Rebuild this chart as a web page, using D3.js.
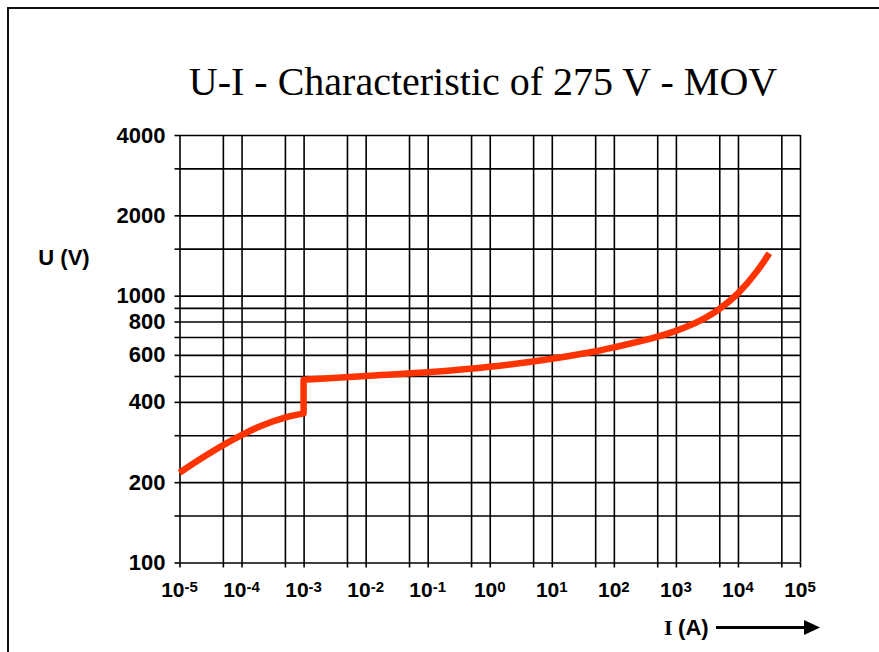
<!DOCTYPE html>
<html>
<head>
<meta charset="utf-8">
<script src="https://cdn.jsdelivr.net/npm/d3@7"></script>
<style>
  body { margin: 0; background: #fff; }
</style>
</head>
<body>
<div class="mov"></div>
<script>
// values
const currentLow = [1e-5, 3e-5, 1e-4, 2e-4, 5e-4, 1e-3]
const voltageLow = [217, 256, 300, 324, 349, 362]
const currentHigh = [1e-3, 1e-2, 1e-1, 1, 10, 40, 100, 490, 1000, 2450, 4800, 1e4, 2e4, 3.2e4]
const voltageHigh = [484, 500, 516, 541, 580, 612, 640, 700, 738, 806, 885, 1020, 1230, 1441]

const xGrid = [1e-5, 5e-5, 1e-4, 5e-4, 1e-3, 5e-3, 1e-2, 5e-2, 1e-1, 5e-1, 1, 5, 10, 50, 100, 500, 1e3, 5e3, 1e4, 5e4, 1e5]
const xLabels = [-5, -4, -3, -2, -1, 0, 1, 2, 3, 4, 5]
const yGrid = [100, 150, 200, 300, 400, 500, 600, 700, 800, 900, 1000, 1500, 2000, 3000, 4000]
const yLabels = [100, 200, 400, 600, 800, 1000, 2000, 4000]

function movChart() {
  const width = 879
  const height = 652
  const left = 179.5, right = 800, top = 135, bottom = 562.5

  const svg = d3.select(".mov").append("svg")
    .attr("width", width)
    .attr("height", height)

  // frame round the whole picture
  svg.append("rect")
    .attr("x", 8)
    .attr("y", 8)
    .attr("width", width + 20)
    .attr("height", height + 20)
    .attr("fill", "none")
    .attr("stroke", "#111")
    .attr("stroke-width", 2)

  const x = d3.scaleLog().domain([1e-5, 1e5]).range([left, right])
  const y = d3.scaleLog().domain([100, 4000]).range([bottom, top])

  svg.append("text")
    .attr("x", 483)
    .attr("y", 95)
    .attr("text-anchor", "middle")
    .style("font-family", "'Liberation Serif', 'Times New Roman', serif")
    .style("font-size", "40px")
    .attr("fill", "#000")
    .text("U-I - Characteristic of 275 V - MOV")

  // grid
  svg.append("g")
    .attr("transform", "translate(" + left + ",0)")
    .call(d3.axisLeft(y).tickValues(yGrid).tickSize(-(right - left)).tickFormat(""))
    .call(g => g.select(".domain").remove())
    .selectAll("line")
    .attr("stroke", "#000")
    .attr("stroke-width", 1.6)

  svg.append("g")
    .attr("transform", "translate(0," + bottom + ")")
    .call(d3.axisBottom(x).tickValues(xGrid).tickSize(-(bottom - top)).tickFormat(""))
    .call(g => g.select(".domain").remove())
    .selectAll("line")
    .attr("stroke", "#000")
    .attr("stroke-width", 1.6)

  // y axis ticks + labels
  const yAxis = svg.append("g")
    .attr("transform", "translate(" + left + ",0)")
    .call(d3.axisLeft(y).tickValues(yGrid).tickSize(5).tickPadding(9)
      .tickFormat(d => yLabels.includes(d) ? d : ""))
  yAxis.select(".domain").remove()
  yAxis.selectAll("line").attr("stroke", "#000").attr("stroke-width", 1.6)
  yAxis.selectAll("text")
    .style("font-family", "'Liberation Sans', Arial, sans-serif")
    .style("font-size", "22px")
    .style("font-weight", "bold")
    .attr("fill", "#000")

  // x axis ticks + labels
  const xAxis = svg.append("g")
    .attr("transform", "translate(0," + bottom + ")")
    .call(d3.axisBottom(x).tickValues(xGrid).tickSize(5).tickFormat(""))
  xAxis.select(".domain").remove()
  xAxis.selectAll("line").attr("stroke", "#000").attr("stroke-width", 1.6)

  const xText = svg.append("g").selectAll("text")
    .data(xLabels)
    .enter()
    .append("text")
    .attr("x", d => x(Math.pow(10, d)))
    .attr("y", 597)
    .attr("text-anchor", "middle")
    .style("font-family", "'Liberation Sans', Arial, sans-serif")
    .style("font-weight", "bold")
    .attr("fill", "#000")
  xText.append("tspan")
    .style("font-size", "21px")
    .text("10")
  xText.append("tspan")
    .attr("dy", "-5")
    .style("font-size", "15px")
    .text(d => d)

  // axis titles
  svg.append("text")
    .attr("x", 64)
    .attr("y", 265)
    .attr("text-anchor", "middle")
    .style("font-family", "'Liberation Sans', Arial, sans-serif")
    .style("font-size", "22px")
    .style("font-weight", "bold")
    .text("U (V)")

  const iText = svg.append("text")
    .attr("x", 664)
    .attr("y", 635)
    .style("font-size", "22px")
    .style("font-weight", "bold")
  iText.append("tspan")
    .style("font-family", "'Liberation Serif', 'Times New Roman', serif")
    .text("I ")
  iText.append("tspan")
    .style("font-family", "'Liberation Sans', Arial, sans-serif")
    .text("(A)")

  svg.append("line")
    .attr("x1", 716)
    .attr("x2", 806)
    .attr("y1", 627.5)
    .attr("y2", 627.5)
    .attr("stroke", "#000")
    .attr("stroke-width", 3)
  svg.append("path")
    .attr("d", "M804,620 L820,627.5 L804,635 Z")
    .attr("fill", "#000")

  // the curve: lower branch, jump at 1 mA, upper branch
  const line = d3.line()
    .x(d => x(d[0]))
    .y(d => y(d[1]))
    .curve(d3.curveMonotoneX)

  const low = d3.zip(currentLow, voltageLow)
  const high = d3.zip(currentHigh, voltageHigh)
  const pathD = line(low) + line(high).replace(/^M/, "L")

  svg.append("path")
    .attr("d", pathD)
    .attr("fill", "none")
    .attr("stroke", "#ff3300")
    .attr("stroke-width", 6.5)
    .attr("stroke-linejoin", "round")
}

movChart()
</script>
</body>
</html>
